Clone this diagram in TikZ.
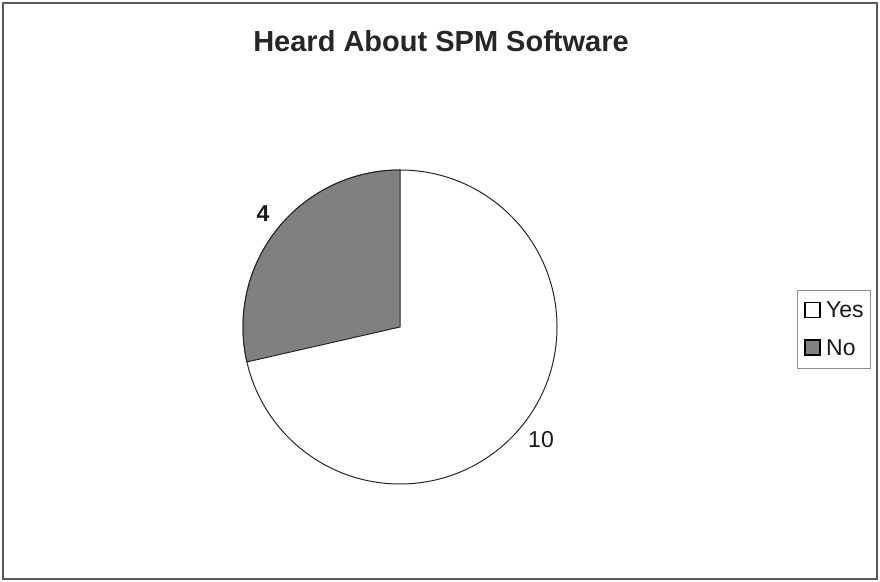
\documentclass[tikz,border=0pt]{standalone}
\usepackage{fontspec}
\setmainfont{Liberation Sans}
\begin{document}
\begin{tikzpicture}[x=1pt,y=1pt,
  lbl/.style={inner sep=0pt,anchor=base,text=black!90,font=\fontsize{23}{27}\selectfont},
  legsq/.style={draw=black,line width=1.3pt,minimum size=15pt,inner sep=0pt},
  slice/.style={draw=black!85,line width=1pt}]
\useasboundingbox (0,0) rectangle (880,581);
\fill[white] (0,0) rectangle (880,581);
% outer frame
\draw[black!65,line width=2.2pt] (3,2) rectangle (877,578);
% title
\node[inner sep=0pt,anchor=base,font=\bfseries\fontsize{29}{34}\selectfont,text=black!85] (title) at (441,529) {Heard About SPM Software};
% pie
\coordinate (c) at (400,254);
\fill[white,slice] (c) circle (157);
\filldraw[fill=black!50,slice] (c) -- ++(90:157) arc (90:192.86:157) -- cycle;
% data labels
\node[lbl,font=\bfseries\fontsize{23}{27}\selectfont] (l4) at (263,359) {4};
\node[lbl] (l10) at (541,134) {10};
% legend
\node[draw=black!45,line width=0.8pt,minimum width=73pt,minimum height=78pt,inner sep=0pt] (leg) at (833.5,252) {};
\node[legsq,fill=white] (sqy) at (812.5,271) {};
\node[legsq,fill=black!50] (sqn) at (812.5,233.5) {};
\node[lbl,anchor=base west] (ty) at (826,263) {Yes};
\node[lbl,anchor=base west] (tn) at (826,225.5) {No};
\end{tikzpicture}
\end{document}
